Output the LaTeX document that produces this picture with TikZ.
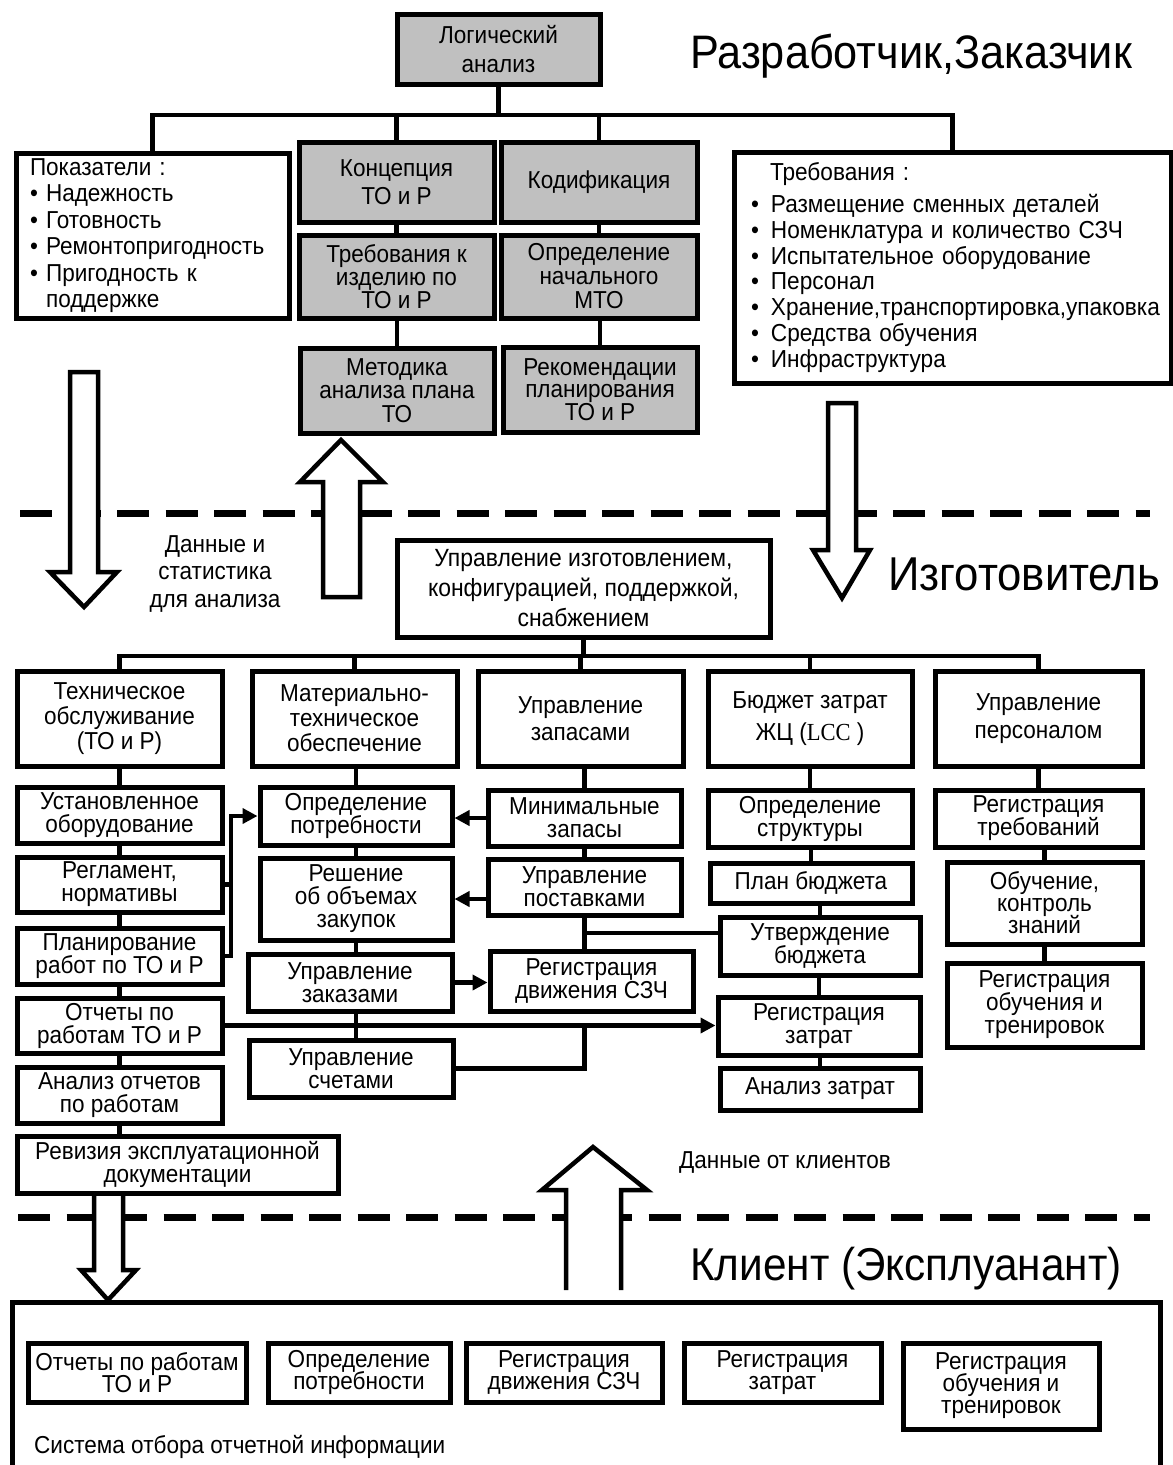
\documentclass[tikz,border=0pt]{standalone}
\usepackage{fontspec}
\setmainfont{Liberation Sans}[FakeStretch=0.92]
\newfontfamily\serifF{Liberation Serif}[FakeStretch=0.92]
\usetikzlibrary{arrows.meta}
\definecolor{boxgray}{RGB}{192,192,192}
\newcommand\fs[2]{\fontsize{#1}{#2}\selectfont\lineskiplimit=-60pt\relax}
\newcommand\blt[1]{\mbox{•\hspace{12pt}#1}}
\tikzset{
  bx/.style={draw, line width=5pt, align=center, inner sep=2pt, font=\fs{24.5}{23}},
  gbx/.style={bx, fill=boxgray},
  ln/.style={line width=4.5pt},
  arr/.style={ln, -{Triangle[length=15pt,width=15pt]}},
  dsh/.style={line width=7pt, dash pattern=on 32pt off 16.5pt},
  hol/.style={line width=4.5pt, fill=white, line join=miter},
  bigl/.style={font=\fs{47}{50}, inner sep=0pt},
  lbl/.style={font=\fs{24.5}{27.5}, align=center, inner sep=0pt},
}
\newcommand\bxn[7]{\node[#6, minimum width={#4-#2}, minimum height={#5-#3}] (#1) at ({(#2+#4)/2},{(#3+#5)/2}) {#7};}
\begin{document}
\begin{tikzpicture}[x=1pt,y=-1pt]
\fill[white] (0,0) rectangle (1173,1465);
\useasboundingbox (0,0) rectangle (1173,1465);

% separators
\draw[dsh] (20,513) -- (1150,513);
\draw[dsh] (18,1217) -- (1150,1217);

% ---------- top level ----------
\bxn{log}{397}{14}{600}{84}{gbx,font=\fs{24.5}{29}}{Логический\\анализ}
\node[bx, align=left, text width=245pt, inner xsep=14pt, inner ysep=0pt, minimum height=165pt, font=\fs{24.5}{26.5}] (pok) at (152.5,235.5) {Показатели :\\• Надежность\\• Готовность\\• Ремонтопригодность\\• Пригодность к\\\phantom{• }поддержке};
\bxn{konc}{299}{142}{494}{222}{gbx,font=\fs{24.5}{28}}{Концепция\\ТО и Р}
\bxn{kod}{501}{142}{697}{222}{gbx}{Кодификация}
\bxn{treb}{299}{235}{494}{318}{gbx}{Требования к\\изделию по\\ТО и Р}
\bxn{mto}{501}{235}{697}{318}{gbx,font=\fs{24.5}{24}}{Определение\\начального\\МТО}
\bxn{met}{300}{348}{494}{433}{gbx,font=\fs{24.5}{23.5}}{Методика\\анализа плана\\ТО}
\bxn{rek}{503}{347}{697}{432}{gbx,font=\fs{24.5}{22.5}}{Рекомендации\\планирования\\ТО и Р}
\node[bx, align=left, text width=403pt, inner xsep=17pt, inner ysep=0pt, minimum height=231pt, font=\fs{24.6}{25.8}] (trl) at (952.5,267.5) {\hspace*{19pt}Требования :\\[6pt]\blt{Размещение сменных деталей}\\\blt{Номенклатура и количество СЗЧ}\\\blt{Испытательное оборудование}\\\blt{Персонал}\\\blt{Хранение,транспортировка,упаковка}\\\blt{Средства обучения}\\\blt{Инфраструктура}};

\node[bigl, anchor=base west] (t1) at (690,68) {Разработчик,Заказчик};

\draw[ln] (log.south) -- (log.south |- 0,115);
\draw[ln] (pok.north) -- (pok.north |- 0,115) -- (trl.north |- 0,115) -- (trl.north);
\draw[ln] (konc.north) -- (konc.north |- 0,115);
\draw[ln] (kod.north) -- (kod.north |- 0,115);
\draw[ln] (treb.north) -- (treb.north |- konc.south);
\draw[ln] (mto.north) -- (mto.north |- kod.south);
\draw[ln] (met.north) -- (met.north |- treb.south);
\draw[ln] (rek.north) -- (rek.north |- mto.south);

% ---------- manufacturer ----------
\bxn{upr}{397}{540}{770}{637}{bx,font=\fs{24.9}{30}}{Управление изготовлением,\\конфигурацией, поддержкой,\\снабжением}
\node[lbl] (dsa) at (215,574) {Данные и\\статистика\\для анализа};
\node[bigl, font=\fs{47.5}{50}, anchor=base west] (t2) at (888,590) {Изготовитель};

\bxn{c1}{17}{671}{222}{766}{bx,font=\fs{24.5}{25}}{Техническое\\обслуживание\\(ТО и Р)}
\bxn{c2}{252}{671}{457}{766}{bx,font=\fs{24.5}{25}}{Материально-\\техническое\\обеспечение}
\bxn{c3}{478}{671}{683}{766}{bx,font=\fs{24.5}{27}}{Управление\\запасами}
\bxn{c4}{708}{671}{912}{766}{bx,font=\fs{24.5}{32}}{Бюджет затрат\\ЖЦ ({\serifF LCC} )}
\bxn{c5}{935}{671}{1142}{766}{bx,font=\fs{24.5}{28}}{Управление\\персоналом}

\draw[ln] (upr.south) -- (upr.south |- 0,656);
\draw[ln] (c1.north) -- (c1.north |- 0,656) -- (c5.north |- 0,656) -- (c5.north);
\draw[ln] (c2.north) -- (c2.north |- 0,656);
\draw[ln] (c3.north) -- (c3.north |- 0,656);
\draw[ln] (c4.north) -- (c4.north |- 0,656);

% column 1
\bxn{ust}{17}{787}{222}{843}{bx}{Установленное\\оборудование}
\bxn{regl}{17}{857}{222}{912}{bx}{Регламент,\\нормативы}
\bxn{plan}{17}{928}{222}{984}{bx}{Планирование\\работ по ТО и Р}
\bxn{otch}{17}{998}{222}{1053}{bx}{Отчеты по\\работам ТО и Р}
\bxn{anl}{17}{1067}{222}{1123}{bx}{Анализ отчетов\\по работам}
\bxn{rev}{17}{1136}{338}{1193}{bx}{Ревизия эксплуатационной\\документации}
\draw[ln] (ust.north) -- (ust.north |- c1.south);
\draw[ln] (regl.north) -- (regl.north |- ust.south);
\draw[ln] (plan.north) -- (plan.north |- regl.south);
\draw[ln] (otch.north) -- (otch.north |- plan.south);
\draw[ln] (anl.north) -- (anl.north |- otch.south);
\draw[ln] (anl.south) -- (anl.south |- rev.north);

% column 2
\bxn{oprp}{260}{787}{452}{845}{bx}{Определение\\потребности}
\bxn{resh}{260}{858}{452}{940}{bx}{Решение\\об объемах\\закупок}
\bxn{zak}{248}{954}{452}{1011}{bx}{Управление\\заказами}
\bxn{sch}{249}{1040}{453}{1097}{bx}{Управление\\счетами}
\draw[ln] (oprp.north) -- (oprp.north |- c2.south);
\draw[ln] (resh.north) -- (resh.north |- oprp.south);
\draw[ln] (resh.south) -- (resh.south |- zak.north);
\draw[ln] (resh.south |- zak.south) -- (resh.south |- sch.north);

% column 3
\bxn{min}{488}{790}{681}{846}{bx}{Минимальные\\запасы}
\bxn{post}{488}{859}{681}{915}{bx}{Управление\\поставками}
\bxn{regd}{490}{951}{693}{1011}{bx}{Регистрация\\движения СЗЧ}
\draw[ln] (min.north) -- (min.north |- c3.south);
\draw[ln] (post.north) -- (post.north |- min.south);
\draw[ln] (post.south) -- (post.south |- regd.north);

% column 4
\bxn{ostr}{708}{790}{912}{847}{bx}{Определение\\структуры}
\bxn{plb}{710}{863}{912}{903}{bx}{План бюджета}
\bxn{utv}{720}{917}{920}{975}{bx}{Утверждение\\бюджета}
\bxn{regz}{718}{997}{920}{1055}{bx}{Регистрация\\затрат}
\bxn{anz}{720}{1068}{920}{1110}{bx}{Анализ затрат}
\draw[ln] (ostr.north) -- (ostr.north |- c4.south);
\draw[ln] (plb.north) -- (plb.north |- ostr.south);
\draw[ln] (utv.north) -- (utv.north |- plb.south);
\draw[ln] (regz.north) -- (regz.north |- utv.south);
\draw[ln] (anz.north) -- (anz.north |- regz.south);

% column 5
\bxn{rtr}{935}{790}{1142}{847}{bx}{Регистрация\\требований}
\bxn{obuch}{947}{862}{1142}{944}{bx,font=\fs{24.5}{22}}{Обучение,\\контроль\\знаний}
\bxn{rob}{947}{963}{1142}{1047}{bx}{Регистрация\\обучения и\\тренировок}
\draw[ln] (rtr.north) -- (rtr.north |- c5.south);
\draw[ln] (obuch.north) -- (obuch.north |- rtr.south);
\draw[ln] (rob.north) -- (rob.north |- obuch.south);

% cross connections
\coordinate (brk) at (231,816);
\draw[ln] (regl.east) -- (regl.east -| brk);
\draw[arr] (plan.east) -| (brk) -- (brk -| oprp.west);
\draw[arr] (min.west) -- (min.west -| oprp.east);
\draw[arr] (resh.east -| post.west) -- (resh.east);
\draw[arr] (zak.east) -- (zak.east -| regd.west);
\draw[arr] (otch.east) -- (otch.east -| regz.west);
\coordinate (j1) at (584.5,933);
\draw[ln] (j1) -- (j1 -| utv.west);
\coordinate (j2) at (otch.east -| post.south);
\draw[ln] (sch.east) -| (j2);

% hollow arrows
\filldraw[hol] (70,372) -- (98,372) -- (98,572) -- (117,572) -- (84,607) -- (50,572) -- (70,572) -- cycle;
\filldraw[hol] (341,440) -- (383,482) -- (360,482) -- (360,597) -- (323,597) -- (323,482) -- (300,482) -- cycle;
\filldraw[hol] (828,403) -- (856,403) -- (856,550) -- (870,550) -- (842,598) -- (813,550) -- (828,550) -- cycle;
\filldraw[hol] (566,1290) -- (566,1190) -- (542,1190) -- (593,1147) -- (647,1190) -- (621,1190) -- (621,1290);
\filldraw[hol] (94,1196) -- (94,1270) -- (81,1270) -- (108,1300) -- (136,1270) -- (123,1270) -- (123,1196);

% ---------- client ----------
\node[font=\fs{24.5}{23}, anchor=west, inner sep=0pt] (dok) at (679,1162) {Данные от клиентов};
\node[bigl, font=\fs{46}{50}, anchor=base west] (t3) at (690,1280) {Клиент (Эксплуанант)};
\draw[line width=5pt] (12,1475) -- (12,1302) -- (1160,1302) -- (1160,1475);
\bxn{b1}{28}{1343}{246}{1402}{bx,font=\fs{24.5}{22}}{Отчеты по работам\\ТО и Р}
\bxn{b2}{268}{1343}{450}{1402}{bx,font=\fs{24.5}{22}}{Определение\\потребности}
\bxn{b3}{466}{1343}{662}{1402}{bx,font=\fs{24.5}{22}}{Регистрация\\движения СЗЧ}
\bxn{b4}{684}{1343}{881}{1402}{bx,font=\fs{24.5}{22}}{Регистрация\\затрат}
\bxn{b5}{903}{1343}{1099}{1429}{bx,font=\fs{24.5}{22}}{Регистрация\\обучения и\\тренировок}
\node[font=\fs{24.5}{23}, anchor=west, inner sep=0pt] (sys) at (34,1447) {Система отбора отчетной информации};
\end{tikzpicture}
\end{document}
